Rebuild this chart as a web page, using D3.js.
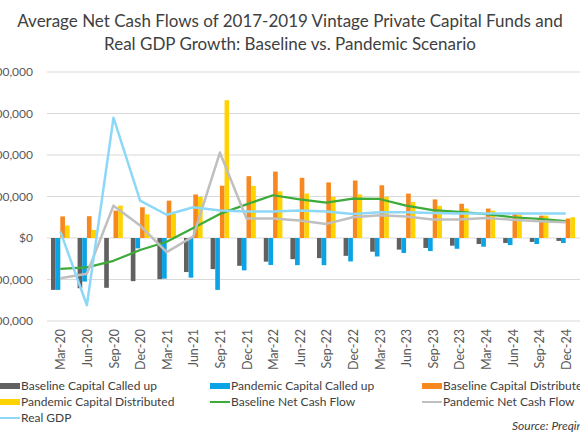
<!DOCTYPE html>
<html>
<head>
<meta charset="utf-8">
<script src="https://cdn.jsdelivr.net/npm/d3@7"></script>
<style>
  body { margin: 0; background: #fff; }
  svg { display: block; font-family: Lato, "Open Sans", sans-serif; }
</style>
</head>
<body>
<svg width="580" height="435"></svg>
<script>
// quarters on the x axis
const quarters = ['Mar-20', 'Jun-20', 'Sep-20', 'Dec-20', 'Mar-21', 'Jun-21', 'Sep-21', 'Dec-21',
  'Mar-22', 'Jun-22', 'Sep-22', 'Dec-22', 'Mar-23', 'Jun-23', 'Sep-23', 'Dec-23',
  'Mar-24', 'Jun-24', 'Sep-24', 'Dec-24'];

// bar series ($)
const baselineCalled = [-125000, -121000, -120000, -104000, -99000, -82000, -75000, -67000,
  -57000, -51000, -48500, -43000, -33000, -28000, -24000, -18500, -14500, -12000, -9500, -7000];
const pandemicCalled = [-125000, -105000, 0, -25000, -98000, -95500, -125000, -78000,
  -65000, -65500, -65500, -56500, -44500, -36000, -31500, -26000, -21000, -17000, -14500, -12000];
const baselineDistributed = [52000, 52500, 66000, 74000, 90000, 105000, 126000, 149000,
  160000, 145000, 134000, 138500, 127000, 107000, 93000, 82500, 71000, 57500, 54000, 47000];
const pandemicDistributed = [30000, 19500, 78000, 57000, 58000, 99000, 332000, 125500,
  112500, 107000, 99000, 105000, 99000, 86500, 77500, 71000, 66000, 56500, 54000, 50000];

// line series ($)
const baselineNet = [-74500, -71000, -55000, -29000, -9000, 24000, 58000, 81000,
  103000, 93000, 85000, 95000, 94000, 78000, 67000, 63000, 57500, 50000, 46000, 40500];
const pandemicNet = [-97000, -86000, 78000, 30000, -34000, 4000, 206000, 47000,
  47000, 42000, 34000, 50000, 55000, 52000, 44500, 44500, 48000, 44000, 40500, 38000];

// real GDP growth (%), secondary axis
const realGdp = [0.8, -8.1, 14.5, 4.5, 2.8, 3.7, 3.3, 3.2, 3.2, 3.3, 3.2, 2.9,
  3.1, 3.1, 3.0, 2.95, 2.95, 2.95, 2.95, 2.95];

const yTicks = [-200000, -100000, 0, 100000, 200000, 300000, 400000];

const svg = d3.select('svg');
const margin = { top: 72, right: 1, bottom: 116, left: 47 };
const width = +svg.attr('width');
const height = +svg.attr('height');

const x = d3.scaleBand()
  .domain(quarters)
  .range([margin.left, width - margin.right])
  .paddingInner(0.3)
  .paddingOuter(0.15);

const barSeries = [
  { name: 'Baseline Capital Called up', values: baselineCalled, color: '#616161' },
  { name: 'Pandemic Capital Called up', values: pandemicCalled, color: '#0aa3e6' },
  { name: 'Baseline Capital Distributed', values: baselineDistributed, color: '#f7881f' },
  { name: 'Pandemic Capital Distributed', values: pandemicDistributed, color: '#ffd300' }
];

const x1 = d3.scaleBand()
  .domain(barSeries.map(d => d.name))
  .range([0, x.bandwidth()]);

const y = d3.scaleLinear()
  .domain([-200000, 400000])
  .range([height - margin.bottom + 2, margin.top]);

const yGdp = d3.scaleLinear()
  .domain([-10, 20])
  .range(y.range());

// title
svg.append('g')
  .selectAll('text')
  .data(['Average Net Cash Flows of 2017-2019 Vintage Private Capital Funds and',
    'Real GDP Growth: Baseline vs. Pandemic Scenario'])
  .join('text')
  .attr('x', width / 2)
  .attr('y', (d, i) => 27 + i * 23)
  .attr('text-anchor', 'middle')
  .attr('font-size', 17)
  .attr('fill', '#404040')
  .text(d => d);

// gridlines + y labels
const fmt = d3.format(',');
const yAxis = svg.append('g');
yAxis.selectAll('line')
  .data(yTicks)
  .join('line')
  .attr('x1', margin.left)
  .attr('x2', width)
  .attr('y1', d => y(d))
  .attr('y2', d => y(d))
  .attr('stroke', '#d9d9d9')
  .attr('stroke-width', 1);
yAxis.selectAll('text')
  .data(yTicks)
  .join('text')
  .attr('x', 33)
  .attr('y', d => y(d))
  .attr('dy', '0.35em')
  .attr('text-anchor', 'end')
  .attr('font-size', 12)
  .attr('fill', '#595959')
  .text(d => (d < 0 ? '-$' : '$') + fmt(Math.abs(d)));

// x labels
svg.append('g')
  .selectAll('text')
  .data(quarters)
  .join('text')
  .attr('transform', d => `translate(${x(d) + x.bandwidth() / 2 + 5},${y(-200000) + 8}) rotate(-90)`)
  .attr('text-anchor', 'end')
  .attr('font-size', 12.5)
  .attr('fill', '#595959')
  .text(d => d);

// bars
const bars = svg.append('g');
barSeries.forEach(s => {
  bars.append('g')
    .selectAll('rect')
    .data(s.values)
    .join('rect')
    .attr('x', (d, i) => x(quarters[i]) + x1(s.name))
    .attr('y', d => y(Math.max(0, d)))
    .attr('width', x1.bandwidth())
    .attr('height', d => Math.abs(y(d) - y(0)))
    .attr('fill', s.color);
});

// lines
const cx = i => x(quarters[i]) + x.bandwidth() / 2;
const lineSeries = [
  { name: 'Baseline Net Cash Flow', values: baselineNet, color: '#3dab3a', width: 2.25, scale: y },
  { name: 'Pandemic Net Cash Flow', values: pandemicNet, color: '#bfbfbf', width: 2.5, scale: y },
  { name: 'Real GDP', values: realGdp, color: '#8dd8f8', width: 2.5, scale: yGdp }
];
lineSeries.forEach(s => {
  svg.append('path')
    .datum(s.values)
    .attr('fill', 'none')
    .attr('stroke', s.color)
    .attr('stroke-width', s.width)
    .attr('stroke-linejoin', 'round')
    .attr('d', d3.line().x((d, i) => cx(i)).y(d => s.scale(d)));
});

// legend
const legendItems = [
  { name: 'Baseline Capital Called up', color: '#616161', type: 'bar' },
  { name: 'Pandemic Capital Called up', color: '#0aa3e6', type: 'bar' },
  { name: 'Baseline Capital Distributed', color: '#f7881f', type: 'bar' },
  { name: 'Pandemic Capital Distributed', color: '#ffd300', type: 'bar' },
  { name: 'Baseline Net Cash Flow', color: '#3dab3a', type: 'line' },
  { name: 'Pandemic Net Cash Flow', color: '#bfbfbf', type: 'line' },
  { name: 'Real GDP', color: '#8dd8f8', type: 'line' }
];
const colX = [0, 210, 422];
const legend = svg.append('g')
  .selectAll('g')
  .data(legendItems)
  .join('g')
  .attr('transform', (d, i) => `translate(${colX[i % 3]},${386 + Math.floor(i / 3) * 16})`);
legend.filter(d => d.type === 'bar')
  .append('rect')
  .attr('x', 0).attr('y', -3).attr('width', 20).attr('height', 6)
  .attr('fill', d => d.color);
legend.filter(d => d.type === 'line')
  .append('line')
  .attr('x1', 0).attr('x2', 20)
  .attr('stroke', d => d.color)
  .attr('stroke-width', 2);
legend.append('text')
  .attr('x', 21)
  .attr('dy', '0.35em')
  .attr('font-size', 12)
  .attr('fill', '#404040')
  .text(d => d.name);

svg.append('text')
  .attr('x', 512)
  .attr('y', 430)
  .attr('font-size', 12)
  .attr('font-style', 'italic')
  .attr('fill', '#404040')
  .text('Source: Preqin');
</script>
</body>
</html>
